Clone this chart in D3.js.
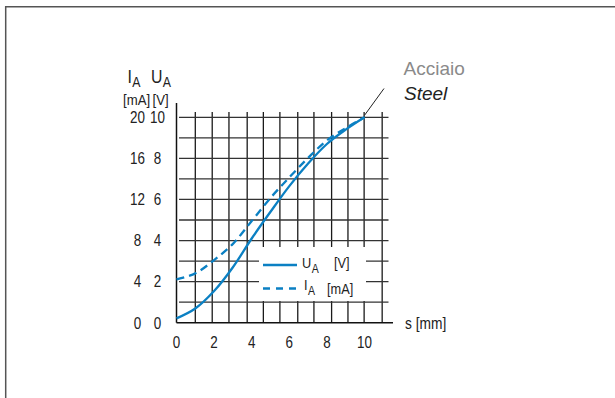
<!DOCTYPE html>
<html>
<head>
<meta charset="utf-8">
<script src="https://cdn.jsdelivr.net/npm/d3@7"></script>
<style>
  body { margin: 0; background: #fff; }
  svg { display: block; }
  text { font-family: "Liberation Sans", Arial, sans-serif; fill: #222; }
</style>
</head>
<body>
<svg width="615" height="398"></svg>
<script>
// stroke s [mm] and the two output signals
var stroke = [0, 1, 2, 3, 4, 5, 6, 7, 8, 9, 10];
var voltage = [0.21, 0.69, 1.54, 2.7, 4.1, 5.4, 6.65, 7.75, 8.7, 9.4, 10];     // U_A [V]
var current = [4.23, 4.8, 6.1, 7.68, 9.9, 12.15, 14.15, 16.05, 17.75, 18.95, 20]; // I_A [mA]

// tick labels
var xTicks = [0, 2, 4, 6, 8, 10];
var uTicks = [0, 2, 4, 6, 8, 10];
var iTicks = [0, 4, 8, 12, 16, 20];

// grid lines (the vertical grid is not on the labelled mm)
var gridX = [1.0, 1.9, 2.79, 3.76, 4.62, 5.5, 6.45, 7.31, 8.25, 9.12, 9.98, 10.94];
var gridU = [1, 2, 3, 4, 5, 6, 7, 8, 9, 10];

var blue = "#0b80c3";
var narrow = 0.88; // the original type is a condensed grotesque

var svg = d3.select("svg");

var x = d3.scaleLinear().domain([0, 10]).range([176.5, 364.5]);
var yU = d3.scaleLinear().domain([0, 10]).range([322.7, 117.3]);
var yI = d3.scaleLinear().domain([0, 20]).range([322.7, 117.3]);

// condensed text helper
function label(g, px, py, str, size, anchor, squeeze) {
  return g.append("text")
    .attr("transform", "translate(" + px + "," + py + ") scale(" + (squeeze || narrow) + ",1)")
    .attr("text-anchor", anchor || "start")
    .style("font-size", size + "px")
    .text(str);
}

function subLabel(g, px, py, main, sub, size, subSize, drop) {
  var t = g.append("text")
    .attr("transform", "translate(" + px + "," + py + ") scale(" + narrow + ",1)")
    .style("font-size", size + "px");
  t.append("tspan").text(main);
  t.append("tspan").attr("dx", 0.5).attr("dy", drop).style("font-size", subSize + "px").text(sub);
  return t;
}

// outer frame (only left and top edges are visible)
svg.append("path")
  .attr("d", "M5.7,398V6.8H615")
  .attr("fill", "none")
  .attr("stroke", "#555")
  .attr("stroke-width", 1.5);

// grid
var grid = svg.append("g");
grid.selectAll("line.v").data(gridX).enter().append("line")
  .attr("class", "v")
  .attr("x1", function(d) { return x(d); })
  .attr("x2", function(d) { return x(d); })
  .attr("y1", 112)
  .attr("y2", yU(0))
  .attr("stroke", "#1a1a1a")
  .attr("stroke-width", 1.3);
grid.selectAll("line.h").data(gridU).enter().append("line")
  .attr("class", "h")
  .attr("x1", 179)
  .attr("x2", 388.5)
  .attr("y1", function(d) { return yU(d); })
  .attr("y2", function(d) { return yU(d); })
  .attr("stroke", "#333")
  .attr("stroke-width", 1.3);

// axes
svg.append("line")
  .attr("x1", x(0)).attr("x2", x(0))
  .attr("y1", 103).attr("y2", yU(0))
  .attr("stroke", "#111").attr("stroke-width", 1.5);
svg.append("line")
  .attr("x1", x(0)).attr("x2", 393)
  .attr("y1", yU(0)).attr("y2", yU(0))
  .attr("stroke", "#111").attr("stroke-width", 1.5);

// curves
var lineU = d3.line()
  .x(function(d, i) { return x(stroke[i]); })
  .y(function(d) { return yU(d); })
  .curve(d3.curveCatmullRom.alpha(0.5));
var lineI = d3.line()
  .x(function(d, i) { return x(stroke[i]); })
  .y(function(d) { return yI(d); })
  .curve(d3.curveCatmullRom.alpha(0.5));

svg.append("path")
  .attr("d", lineI(current))
  .attr("fill", "none")
  .attr("stroke", blue)
  .attr("stroke-width", 2.3)
  .attr("stroke-dasharray", "8,5");
svg.append("path")
  .attr("d", lineU(voltage))
  .attr("fill", "none")
  .attr("stroke", blue)
  .attr("stroke-width", 2.3);

// legend box blanks out the grid
var leg = svg.append("g");
leg.append("rect")
  .attr("x", 259).attr("y", 247)
  .attr("width", 107).attr("height", 54)
  .attr("fill", "#fff");
leg.append("line")
  .attr("x1", 263).attr("x2", 297).attr("y1", 265).attr("y2", 265)
  .attr("stroke", blue).attr("stroke-width", 2.3);
leg.append("line")
  .attr("x1", 263).attr("x2", 297).attr("y1", 288.5).attr("y2", 288.5)
  .attr("stroke", blue).attr("stroke-width", 2.3)
  .attr("stroke-dasharray", "7,6");

subLabel(leg, 302, 268, "U", "A", 14.5, 12, 5);
label(leg, 334, 268, "[V]", 14.5);
subLabel(leg, 304, 290, "I", "A", 14.5, 12, 5);
label(leg, 327, 294, "[mA]", 14.5);

// tick labels
svg.selectAll("g.xt").data(xTicks).enter().append("g")
  .attr("class", "xt")
  .each(function(d) { label(d3.select(this), x(d), 347.8, d, 16, "middle", 0.84); });

svg.selectAll("g.ut").data(uTicks).enter().append("g")
  .attr("class", "ut")
  .each(function(d) { label(d3.select(this), 157.5, yU(d) + 5.8, d, 16, "middle", 0.84); });

svg.selectAll("g.it").data(iTicks).enter().append("g")
  .attr("class", "it")
  .each(function(d) { label(d3.select(this), 137.5, yI(d) + 5.8, d, 16, "middle", 0.84); });

// axis titles
subLabel(svg, 127.5, 83, "I", "A", 18, 14, 4);
subLabel(svg, 151, 83, "U", "A", 18, 14, 4);
label(svg, 123, 105, "[mA]", 15.5, "start", 0.85);
label(svg, 152.5, 105, "[V]", 15.5, "start", 0.85);
label(svg, 405, 328.5, "s [mm]", 16, "start", 0.86);

// material annotation
svg.append("line")
  .attr("x1", x(10)).attr("y1", yU(10) - 2)
  .attr("x2", 384).attr("y2", 88.5)
  .attr("stroke", "#222").attr("stroke-width", 1);
svg.append("text").attr("x", 403.5).attr("y", 74.5)
  .style("font-size", "19px").style("fill", "#8a8a8a").text("Acciaio");
svg.append("text").attr("x", 404).attr("y", 99.5)
  .style("font-size", "19px").style("font-style", "italic").text("Steel");
</script>
</body>
</html>
